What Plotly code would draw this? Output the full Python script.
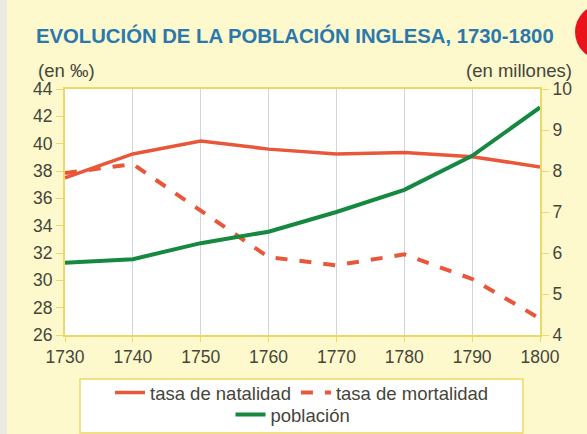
import plotly.graph_objects as go

years = [1730, 1740, 1750, 1760, 1770, 1780, 1790, 1800]
natalidad = [37.5, 39.25, 40.2, 39.6, 39.25, 39.35, 39.05, 38.3]
mortalidad = [37.85, 38.5, 35.1, 31.7, 31.1, 31.9, 30.1, 27.2]
poblacion = [5.76, 5.85, 6.24, 6.52, 7.0, 7.54, 8.37, 9.55]
left_ticks = list(range(26, 45, 2))
right_ticks = list(range(4, 11))

W, H = 587, 434
L, R, T, B = 65, 540, 89, 335

def px(x):
    return (x - L) / (R - L)

def py(y):
    return (B - y) / (B - T)

RED = "#e9573a"
GREEN = "#14893f"
YEL = "#eed865"
TXT = "#45453a"
FONT = "Liberation Sans, Arial, sans-serif"

fig = go.Figure()
fig.add_trace(go.Scatter(x=years, y=natalidad, mode="lines", name="tasa de natalidad",
                         line=dict(color=RED, width=3.5), legend="legend"))
fig.add_trace(go.Scatter(x=years, y=mortalidad, mode="lines", name="tasa de mortalidad",
                         line=dict(color=RED, width=4, dash="dash"), legend="legend"))
fig.add_trace(go.Scatter(x=years, y=poblacion, mode="lines", name="población", yaxis="y2",
                         line=dict(color=GREEN, width=4), legend="legend2"))

fig.update_layout(
    width=W, height=H,
    margin=dict(l=L, r=W - R, t=T, b=H - B, autoexpand=False),
    paper_bgcolor="#fdf9cd",
    plot_bgcolor="#ffffff",
    font=dict(family=FONT, size=17, color=TXT),
    xaxis=dict(range=[1730, 1800], tickvals=years, ticks="outside", ticklen=5,
               tickcolor=YEL, showline=True, linecolor=YEL, linewidth=2, mirror=True,
               showgrid=True, gridcolor="#cfd6e2", gridwidth=1, zeroline=False,
               tickfont=dict(size=17.5, color=TXT), automargin=False),
    yaxis=dict(range=[26, 44], tickvals=left_ticks, ticks="outside", ticklen=7,
               tickcolor=YEL, showline=True, linecolor=YEL, linewidth=2, mirror=True,
               showgrid=False, zeroline=False, tickfont=dict(size=17.5, color=TXT),
               automargin=False),
    yaxis2=dict(range=[4, 10], tickvals=right_ticks, overlaying="y", side="right",
                ticks="outside", ticklen=7, tickcolor=YEL, showline=True, linecolor=YEL,
                linewidth=2, showgrid=False, zeroline=False,
                tickfont=dict(size=17.5, color=TXT), automargin=False),
    legend=dict(orientation="h", x=px(302), xanchor="center", y=py(393), yanchor="middle",
                bgcolor="rgba(0,0,0,0)", font=dict(size=18.5, color=TXT), itemwidth=30),
    legend2=dict(orientation="h", x=px(293), xanchor="center", y=py(415), yanchor="middle",
                 bgcolor="rgba(0,0,0,0)", font=dict(size=18.5, color=TXT), itemwidth=30),
    shapes=[
        dict(type="rect", xref="paper", yref="paper", x0=px(-5), x1=px(7), y0=py(440), y1=py(-5),
             fillcolor="#eceae3", line=dict(width=0), layer="below"),
        dict(type="rect", xref="paper", yref="paper", x0=px(80), x1=px(523), y0=py(433), y1=py(379),
             fillcolor="#ffffff", line=dict(color=YEL, width=1.5), layer="below"),
        dict(type="circle", xref="paper", yref="paper", x0=px(575), x1=px(631), y0=py(60), y1=py(4),
             fillcolor="#e8141a", line=dict(width=0)),
    ],
    annotations=[
        dict(text="<b>EVOLUCIÓN DE LA POBLACIÓN INGLESA, 1730-1800</b>", xref="paper", yref="paper",
             x=px(295), y=py(35), xanchor="center", yanchor="middle", showarrow=False,
             font=dict(size=20.3, color="#2a78ad", family=FONT)),
        dict(text="(en ‰)", xref="paper", yref="paper", x=px(36), y=py(71),
             xanchor="left", yanchor="middle", showarrow=False, font=dict(size=18.5, color=TXT)),
        dict(text="(en millones)", xref="paper", yref="paper", x=px(574), y=py(71),
             xanchor="right", yanchor="middle", showarrow=False, font=dict(size=18.5, color=TXT)),
    ],
)

fig.write_html(
    "out.html",
    config={"displayModeBar": False},
    post_script="document.body.style.margin='0px';document.body.style.overflow='hidden';"
                "document.documentElement.style.overflow='hidden';",
)
